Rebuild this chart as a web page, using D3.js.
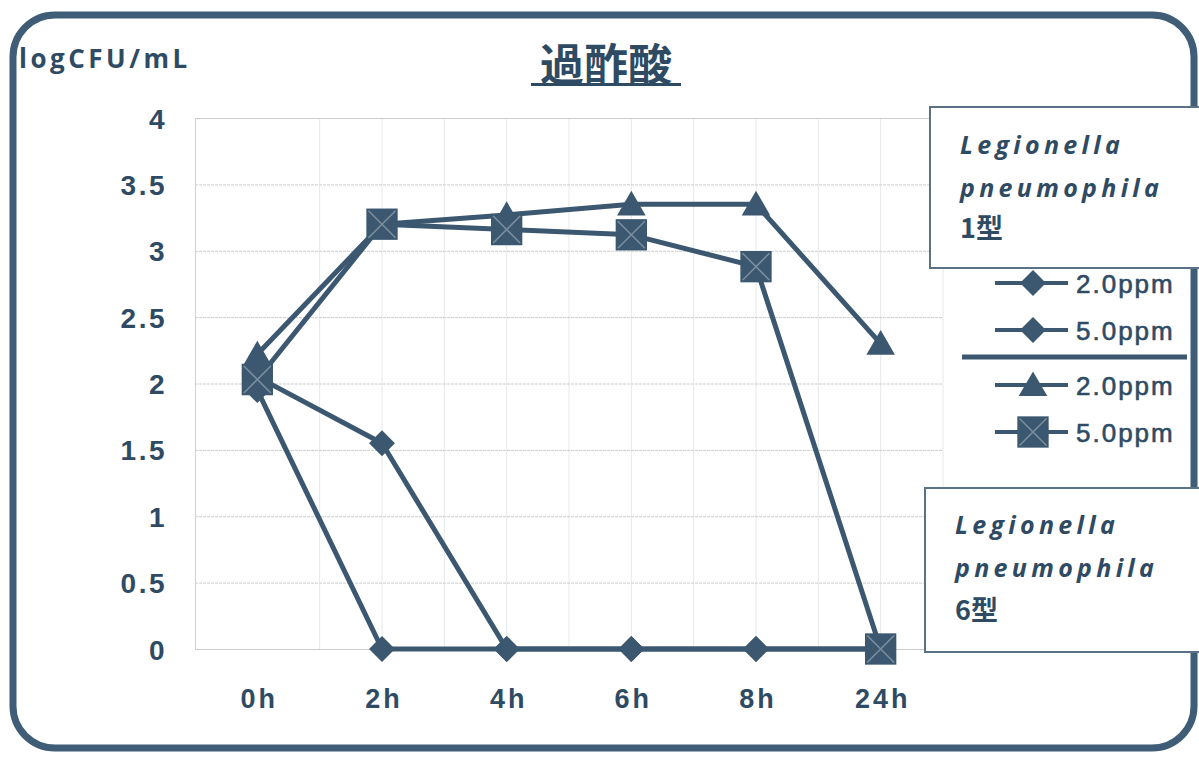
<!DOCTYPE html>
<html>
<head>
<meta charset="utf-8">
<script src="https://cdn.jsdelivr.net/npm/d3@7"></script>
<style>
  html, body { margin: 0; padding: 0; background: #fff; }
  svg { display: block; }
</style>
</head>
<body>
<svg id="chart" width="1199" height="757"></svg>
<script>
// Time points and measured log counts (logCFU/mL) under peracetic acid
const categories = ["0h", "2h", "4h", "6h", "8h", "24h"];
const yTicks = [0, 0.5, 1, 1.5, 2, 2.5, 3, 3.5, 4];

// L. pneumophila serogroup 1
const sg1_2ppm = [2.05, 1.55, 0, 0, 0, 0];
const sg1_5ppm = [1.95, 0, 0, 0, 0, 0];
// L. pneumophila serogroup 6
const sg6_2ppm = [2.22, 3.2, 3.27, 3.35, 3.35, 2.3];
const sg6_5ppm = [2.03, 3.2, 3.16, 3.12, 2.88, 0];

const series = [
  { name: "2.0ppm", marker: "diamond",  values: sg1_2ppm },
  { name: "5.0ppm", marker: "diamond",  values: sg1_5ppm },
  { name: "2.0ppm", marker: "triangle", values: sg6_2ppm },
  { name: "5.0ppm", marker: "square",   values: sg6_5ppm }
];

const title = "過酢酸";
const yLabel = "logCFU/mL";
const groupLabels = [["Legionella", "pneumophila", "1型"], ["Legionella", "pneumophila", "6型"]];

const ink = "#3c5870";
const textInk = "#2f4b63";

const svg = d3.select("#chart");

// Outer rounded frame
svg.append("rect")
  .attr("x", 13).attr("y", 15)
  .attr("width", 1181).attr("height", 733)
  .attr("rx", 42).attr("ry", 42)
  .attr("fill", "#fff")
  .attr("stroke", "#3f5d77")
  .attr("stroke-width", 7);

const plot = { left: 195, right: 943, top: 118, bottom: 649 };

const x = d3.scalePoint().domain(categories).range([plot.left, plot.right]).padding(0.5);
const y = d3.scaleLinear().domain([0, 4]).range([plot.bottom, plot.top]);

// Vertical grid: band edges and category centres (except the first centre)
const step = x.step();
const vLines = [];
categories.forEach((c, i) => {
  if (i > 0) vLines.push(x(c));
  vLines.push(x(c) + step / 2);
});
svg.append("g").selectAll("line").data(vLines).join("line")
  .attr("x1", d => d).attr("x2", d => d)
  .attr("y1", plot.top).attr("y2", plot.bottom)
  .attr("stroke", "#e6e8ea").attr("stroke-width", 1);

// Horizontal grid via the y axis
const yAxis = d3.axisLeft(y).tickValues(yTicks)
  .tickSize(-(plot.right - plot.left)).tickPadding(28)
  .tickFormat(d => String(d));
const gy = svg.append("g").attr("transform", `translate(${plot.left},0)`).call(yAxis);
gy.select(".domain").attr("stroke", "#cfd3d6");
gy.selectAll(".tick line")
  .attr("stroke", "#c9ccce").attr("stroke-width", 1).attr("stroke-dasharray", "3,1");
gy.selectAll(".tick text")
  .attr("fill", textInk)
  .attr("dy", "0.36em")
  .style("font-family", "'Liberation Sans', Arial, sans-serif")
  .style("font-weight", "bold")
  .style("font-size", "28px")
  .style("letter-spacing", "2.5px");

// X axis labels
const xAxis = d3.axisBottom(x).tickSize(0).tickPadding(45);
const gx = svg.append("g").attr("transform", `translate(0,${plot.bottom})`).call(xAxis);
gx.select(".domain").attr("stroke", "#c9ccce");
gx.selectAll(".tick text")
  .attr("fill", textInk)
  .attr("dy", "0.5em")
  .attr("dx", "1.5px")
  .style("font-family", "'Liberation Sans', Arial, sans-serif")
  .style("font-weight", "bold")
  .style("font-size", "27px")
  .style("letter-spacing", "3px");

// Marker paths
function markerPath(type, s) {
  if (type === "diamond") {
    const r = s * 0.72;
    return `M0,${-r}L${r},0L0,${r}L${-r},0Z`;
  }
  if (type === "triangle") {
    const h = s * 0.95;
    return `M0,${-h * 0.55}L${s * 0.55},${h * 0.45}L${-s * 0.55},${h * 0.45}Z`;
  }
  const a = s * 0.58;
  return `M${-a},${-a}H${a}V${a}H${-a}Z`;
}
const markerSize = { diamond: 18, triangle: 26, square: 27 };

function drawMarker(g, type, cx, cy, scale) {
  const s = markerSize[type] * (scale || 1);
  g.append("path")
    .attr("transform", `translate(${cx},${cy})`)
    .attr("d", markerPath(type, s))
    .attr("fill", ink);
  if (type === "square") {
    const a = s * 0.5;
    g.append("path")
      .attr("transform", `translate(${cx},${cy})`)
      .attr("d", `M${-a},${-a}L${a},${a}M${a},${-a}L${-a},${a}`)
      .attr("stroke", "#7d8f9e").attr("stroke-width", 1.5).attr("fill", "none");
  }
}

const line = d3.line()
  .x((d, i) => x(categories[i]))
  .y(d => y(d));

const marks = svg.append("g");
series.forEach(s => {
  const g = marks.append("g");
  g.append("path")
    .attr("d", line(s.values))
    .attr("fill", "none")
    .attr("stroke", ink)
    .attr("stroke-width", 5)
    .attr("stroke-linejoin", "round");
  s.values.forEach((v, i) => drawMarker(g, s.marker, x(categories[i]), y(v)));
});

// Title
svg.append("text")
  .attr("x", 606).attr("y", 81)
  .attr("text-anchor", "middle")
  .attr("fill", textInk)
  .style("font-family", "'Noto Sans CJK JP', sans-serif")
  .style("font-weight", "bold")
  .style("font-size", "44px")
  .text(title);
svg.append("line")
  .attr("x1", 531).attr("x2", 681).attr("y1", 84.5).attr("y2", 84.5)
  .attr("stroke", textInk).attr("stroke-width", 3);

// Y axis title
svg.append("text")
  .attr("x", 19).attr("y", 68)
  .attr("fill", textInk)
  .style("font-family", "'Open Sans', sans-serif")
  .style("font-weight", "bold")
  .style("font-size", "26px")
  .style("letter-spacing", "3.5px")
  .text(yLabel);

// Serogroup label boxes
const boxes = [
  { x: 930, y: 107, w: 270, h: 161, tx: 960, ty: [154, 197, 238] },
  { x: 925, y: 488, w: 275, h: 164, tx: 955, ty: [534, 577, 620] }
];
boxes.forEach((b, k) => {
  svg.append("rect")
    .attr("x", b.x).attr("y", b.y).attr("width", b.w).attr("height", b.h)
    .attr("fill", "#fff").attr("stroke", "#5b7286").attr("stroke-width", 2);
  groupLabels[k].forEach((t, j) => {
    svg.append("text")
      .attr("x", b.tx).attr("y", b.ty[j])
      .attr("fill", textInk)
      .style("font-family", j < 2 ? "'Open Sans', sans-serif" : "'Noto Sans CJK JP', sans-serif")
      .style("font-weight", "bold")
      .style("font-style", j < 2 ? "italic" : "normal")
      .style("font-size", j < 2 ? "25px" : "27px")
      .style("letter-spacing", j < 2 ? "4.3px" : "0px")
      .text(t);
  });
});

// Legend
const legendY = [283, 330, 385, 432];
const lg = svg.append("g");
series.forEach((s, i) => {
  const ly = legendY[i];
  lg.append("line")
    .attr("x1", 995).attr("x2", 1068).attr("y1", ly).attr("y2", ly)
    .attr("stroke", ink).attr("stroke-width", 4);
  drawMarker(lg, s.marker, 1033, ly, 1);
  lg.append("text")
    .attr("x", 1076).attr("y", ly + 10)
    .attr("fill", textInk)
    .attr("stroke", textInk).attr("stroke-width", 0.6)
    .style("font-family", "'Liberation Sans', Arial, sans-serif")
    .style("font-size", "26px")
    .style("letter-spacing", "2px")
    .text(s.name);
});
lg.append("line")
  .attr("x1", 962).attr("x2", 1187).attr("y1", 357).attr("y2", 357)
  .attr("stroke", ink).attr("stroke-width", 5);
</script>
</body>
</html>
